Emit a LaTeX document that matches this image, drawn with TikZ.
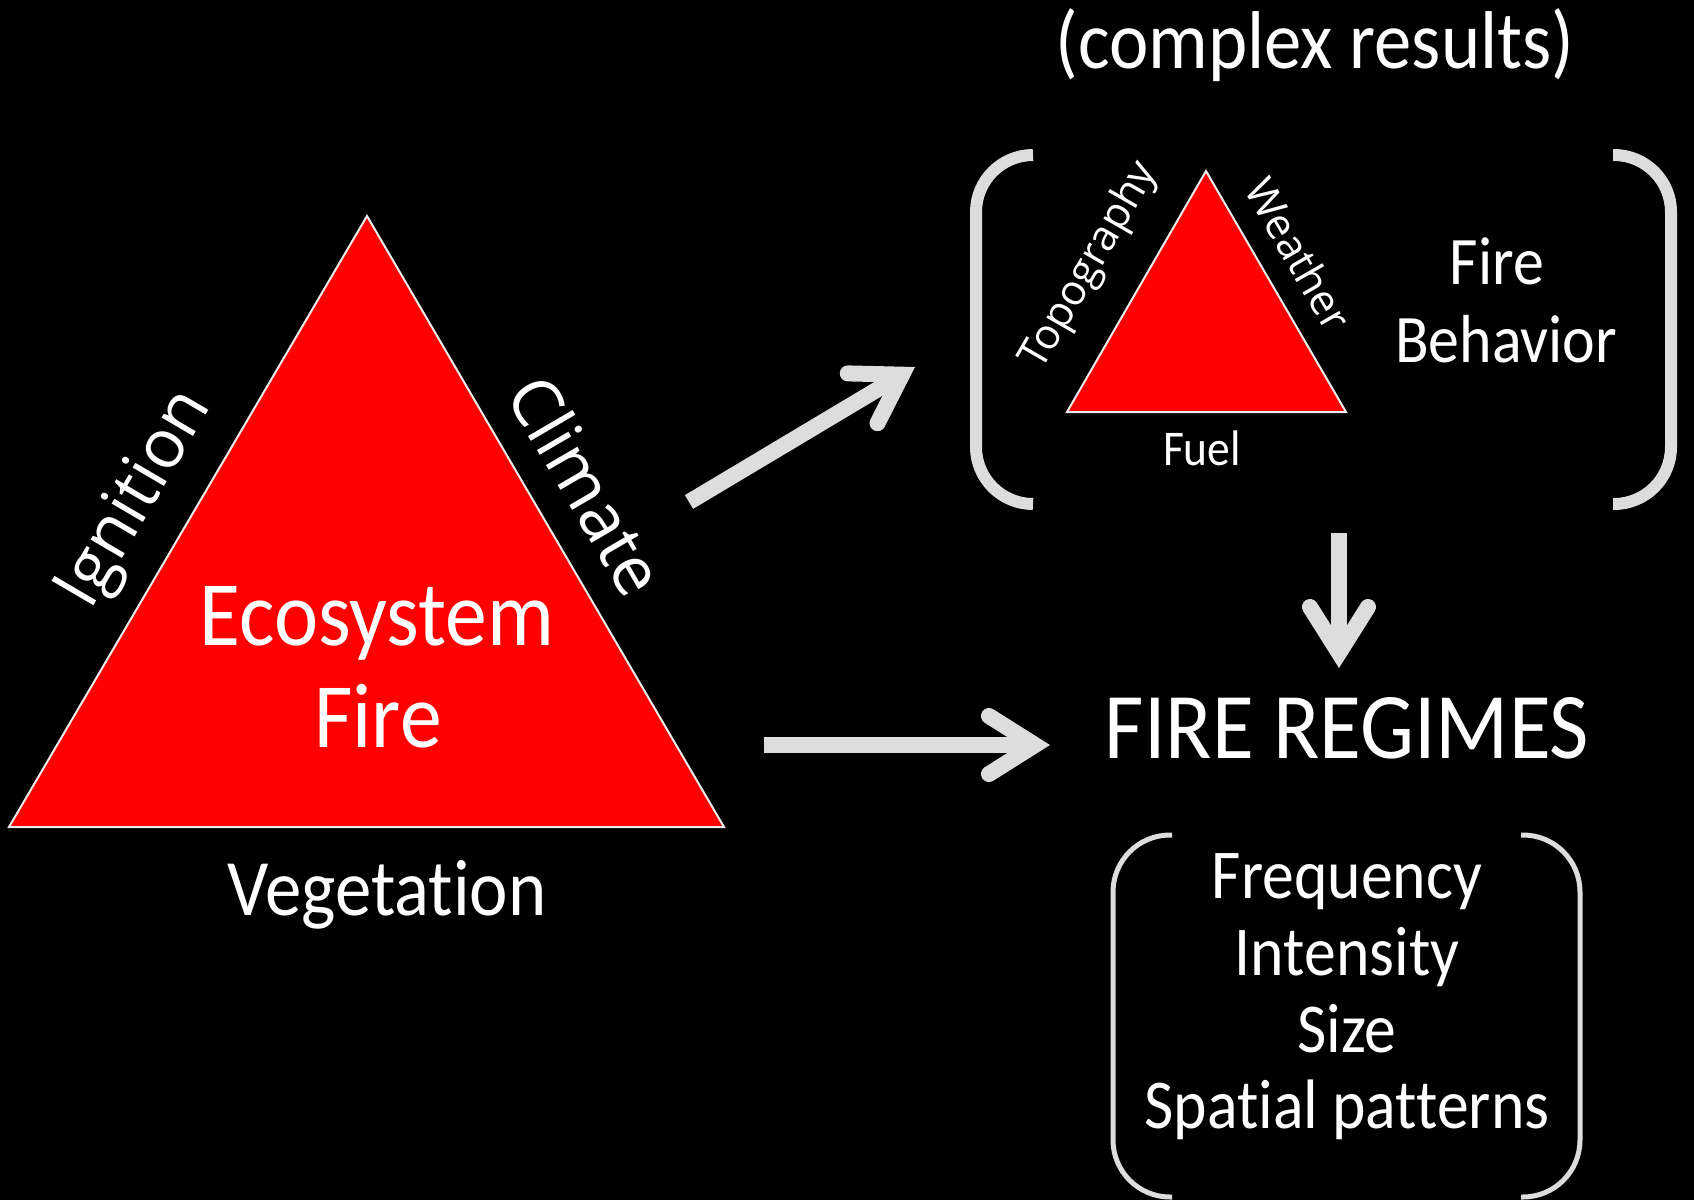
\documentclass[tikz,border=0pt]{standalone}
\usepackage{fontspec}
\setmainfont{Carlito}[FakeStretch=0.91,Ligatures=NoCommon]
\newfontfamily\sidefont{Open Sans}
\usetikzlibrary{arrows.meta}
\definecolor{lgray}{HTML}{DDDDDD}
\definecolor{fred}{HTML}{FF0000}
\tikzstyle{lbl} = [text=white, inner sep=0pt, anchor=base]
\tikzstyle{side} = [text=white, inner sep=0pt]
\tikzstyle{fat} = [draw=lgray, line width=8pt,
    -{Straight Barb[length=23pt,width=29pt,line cap=round,line join=miter]}]
\tikzstyle{brk} = [draw=lgray, line width=6pt, rounded corners=28.5pt]
\tikzstyle{tri} = [fill=fred, draw=white!85!gray, line width=1pt]

\begin{document}
\begin{tikzpicture}[x=0.5pt,y=-0.5pt]
  \fill[black] (0,0) rectangle (1694,1200);
  \useasboundingbox (0,0) rectangle (1694,1200);

  \coordinate (top) at (367,216);
  \coordinate (bl) at (9,827);
  \coordinate (br) at (724,827);
  \filldraw[tri] (top) -- (bl) -- (br) -- cycle;

  \node[lbl, font=\fontsize{46}{46}\selectfont] (eco)  at (377,645) {Ecosystem};
  \node[lbl, font=\fontsize{46}{46}\selectfont] (efire) at (378,747) {Fire};
  \node[lbl, font=\fontsize{40}{40}\selectfont] (veg)  at (387,915) {Vegetation};
  \node[side, font=\sidefont\fontsize{34}{34}\selectfont, rotate=59.6] (ign) at (137,500) {Ignition};
  \node[side, font=\sidefont\fontsize{34}{34}\selectfont, rotate=-59.7] (clim) at (587,485) {Climate};

  \coordinate (stop) at (1206,171);
  \coordinate (sbl) at (1067,412);
  \coordinate (sbr) at (1346,412);
  \filldraw[tri] (stop) -- (sbl) -- (sbr) -- cycle;

  \node[lbl, font=\fontsize{25}{25}\selectfont] (fuel) at (1202,465) {Fuel};
  \node[side, font=\sidefont\fontsize{21}{21}\selectfont, rotate=60] (topo) at (1090,266) {Topography};
  \node[side, font=\sidefont\fontsize{21}{21}\selectfont, rotate=-60] (wea) at (1299,254) {Weather};
  \node[lbl, font=\fontsize{34}{34}\selectfont] (bfire) at (1497,284) {Fire};
  \node[lbl, font=\fontsize{34}{34}\selectfont] (behav) at (1506,362) {Behavior};
  \node[lbl, font=\fontsize{41}{41}\selectfont] (cplx) at (1315,68) {(complex results)};

  \draw[brk] (1033,155) -- (976,155) -- (976,504) -- (1033,504);
  \draw[brk] (1613,155) -- (1671,155) -- (1671,504) -- (1613,504);

  \node[lbl, font=\fontsize{47}{47}\selectfont] (reg) at (1347,758) {FIRE REGIMES};

  \draw[brk, line width=2.5pt] (1172,835) -- (1113,835) -- (1113,1197) -- (1172,1197);
  \draw[brk, line width=2.5pt] (1521,835) -- (1580,835) -- (1580,1197) -- (1521,1197);

  \node[lbl, font=\fontsize{35}{35}\selectfont] (freq) at (1347,898) {Frequency};
  \node[lbl, font=\fontsize{35}{35}\selectfont] (inten) at (1347,975) {Intensity};
  \node[lbl, font=\fontsize{35}{35}\selectfont] (size) at (1347,1052) {Size};
  \node[lbl, font=\fontsize{35}{35}\selectfont] (spat) at (1347,1128) {Spatial patterns};

  \coordinate (a1s) at (689,502);
  \coordinate (a1e) at (915,367);
  \coordinate (a2s) at (764,745);
  \coordinate (a2e) at (1050,745);
  \coordinate (a3s) at (1339,533);
  \coordinate (a3e) at (1339,668);
  \draw[fat] (a1s) -- (a1e);
  \draw[fat] (a2s) -- (a2e);
  \draw[fat] (a3s) -- (a3e);
\end{tikzpicture}
\end{document}
